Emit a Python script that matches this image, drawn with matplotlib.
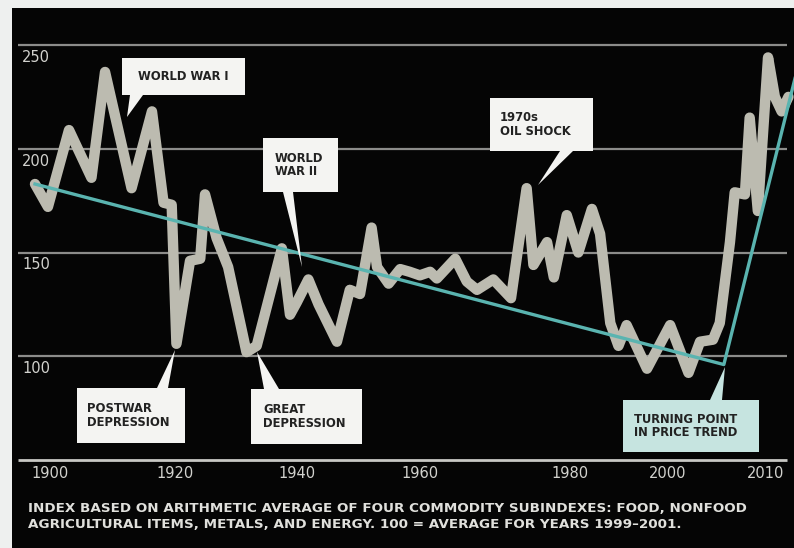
import matplotlib
matplotlib.use("Agg")
import matplotlib.pyplot as plt
from matplotlib.patches import Rectangle, Polygon

# ---------------- data ----------------
years = [1900.0, 1901.9, 1905.0, 1908.3, 1910.3, 1914.2, 1917.2, 1918.9, 1920.1, 1920.8,
         1922.8, 1924.3, 1925.0, 1926.7, 1928.4, 1931.1, 1932.6, 1936.3, 1937.5, 1938.5,
         1940.2, 1941.7, 1944.4, 1946.3, 1947.8, 1949.5, 1950.3, 1952.0, 1953.7, 1955.1,
         1956.6, 1958.1, 1959.1, 1961.8, 1963.5, 1965.0, 1967.4, 1970.0, 1972.3, 1973.3,
         1975.3, 1976.3, 1978.2, 1979.9, 1981.9, 1983.1, 1984.6, 1985.8, 1987.0, 1990.0,
         1993.4, 1996.1, 1997.8, 1999.7, 2000.7, 2002.2, 2002.9, 2004.4, 2005.1, 2006.3,
         2007.8, 2008.8, 2009.8, 2010.8]
index = [183, 172, 209, 186, 237, 181, 218, 174, 173, 106,
         146, 147, 178, 157, 143, 102, 105, 152, 120, 126,
         137, 125, 107, 132, 130, 162, 143, 135, 142, 140.7,
         139, 140.7, 137.5, 147, 136, 132, 137, 128, 181, 144,
         155, 138, 168, 150, 171, 159, 116, 105, 115, 94,
         115, 92, 107, 108, 116, 155, 179, 178, 215, 170,
         244, 225, 218, 225]

trend_years = [1900, 2001.3, 2012]
trend_values = [183, 96, 237]

y_ticks = [100, 150, 200, 250]
y_tick_labels = ["100", "150", "200", "250"]
x_tick_pos = [1902.2, 1920.6, 1938.5, 1956.6, 1978.7, 1993.1, 2007.5]
x_tick_labels = ["1900", "1920", "1940", "1960", "1980", "2000", "2010"]

footnote = ["INDEX BASED ON ARITHMETIC AVERAGE OF FOUR COMMODITY SUBINDEXES: FOOD, NONFOOD",
            "AGRICULTURAL ITEMS, METALS, AND ENERGY. 100 = AVERAGE FOR YEARS 1999\u20132001."]

# ---------------- layout helpers (pixel -> data) ----------------
W, H = 794, 548
def yr(px):
    return 1900 + (px - 35) / 6.8
def val(py):
    return 50 + (460 - py) / 2.075

fig = plt.figure(figsize=(W / 100, H / 100), dpi=100, facecolor="#eef0ef")
ax = fig.add_axes([12 / W, 0, (W - 12) / W, (H - 8) / H])
ax.set_facecolor("#050505")
ax.set_xlim(yr(12), yr(794))
ax.set_ylim(val(548), val(8))
ax.set_xticks([])
ax.set_yticks([])
for s in ax.spines.values():
    s.set_visible(False)

# grid lines
ax.hlines(y_ticks, yr(18), yr(787), color="#8c8c8a", lw=1.6, zorder=1)
ax.hlines([50], yr(18), yr(787), color="#c8c8c4", lw=2.0, zorder=1)

# y tick labels (below grid lines, left)
for v, lab in zip(y_ticks, y_tick_labels):
    ax.text(yr(22), v - 6, lab, color="#d2d2ce", fontsize=10.5,
            ha="left", va="center", zorder=2)

# x tick labels
for xp, lab in zip(x_tick_pos, x_tick_labels):
    ax.text(xp, val(473), lab, color="#d2d2ce", fontsize=10.5,
            ha="center", va="center", zorder=2)

# data line and trend
ax.plot(years, index, color="#bcbbb0", lw=7.5, solid_joinstyle="round",
        solid_capstyle="round", zorder=3)
ax.plot(trend_years, trend_values, color="#5ab4b0", lw=2.4, zorder=4)

# callouts: (text, box px (x0,y0,x1,y1), text x px, pointer base px (xa,xb), tip px (x,y), fill, ha)
callouts = [
    ("WORLD WAR I", (122, 58, 245, 95), 183.5, (130, 143), (127, 117), "#f4f4f2", "center"),
    ("WORLD\nWAR II", (263, 138, 338, 192), 275, (283, 293), (302, 267), "#f4f4f2", "left"),
    ("1970s\nOIL SHOCK", (490, 98, 593, 151), 500, (560, 573), (538, 185), "#f4f4f2", "left"),
    ("POSTWAR\nDEPRESSION", (77, 388, 185, 443), 87, (157, 168), (175, 350), "#f4f4f2", "left"),
    ("GREAT\nDEPRESSION", (251, 389, 362, 444), 263, (264, 279), (257, 352), "#f4f4f2", "left"),
    ("TURNING POINT\nIN PRICE TREND", (623, 400, 759, 452), 634, (710, 722), (725, 367), "#c6e4e0", "left"),
]
for text, (x0, y0, x1, y1), tx, (xa, xb), (tipx, tipy), fc, ha in callouts:
    ax.add_patch(Rectangle((yr(x0), val(y1)), yr(x1) - yr(x0), val(y0) - val(y1),
                           facecolor=fc, edgecolor="none", zorder=5))
    base_y = y1 if tipy > y1 else y0
    ax.add_patch(Polygon([(yr(xa), val(base_y)), (yr(xb), val(base_y)), (yr(tipx), val(tipy))],
                         closed=True, facecolor=fc, edgecolor="none", zorder=5))
    ax.text(yr(tx), val((y0 + y1) / 2), text, color="#222222", fontsize=9.3,
            fontweight="bold", fontstretch="condensed", ha=ha, va="center",
            linespacing=1.05, zorder=6)

# footnote
for i, line in enumerate(footnote):
    ax.text(yr(28), val(508 + 17 * i), line, color="#e0e0dc", fontsize=9.7,
            fontweight="bold", ha="left", va="center", zorder=6)

fig.savefig("out.png", dpi=100, facecolor=fig.get_facecolor())
